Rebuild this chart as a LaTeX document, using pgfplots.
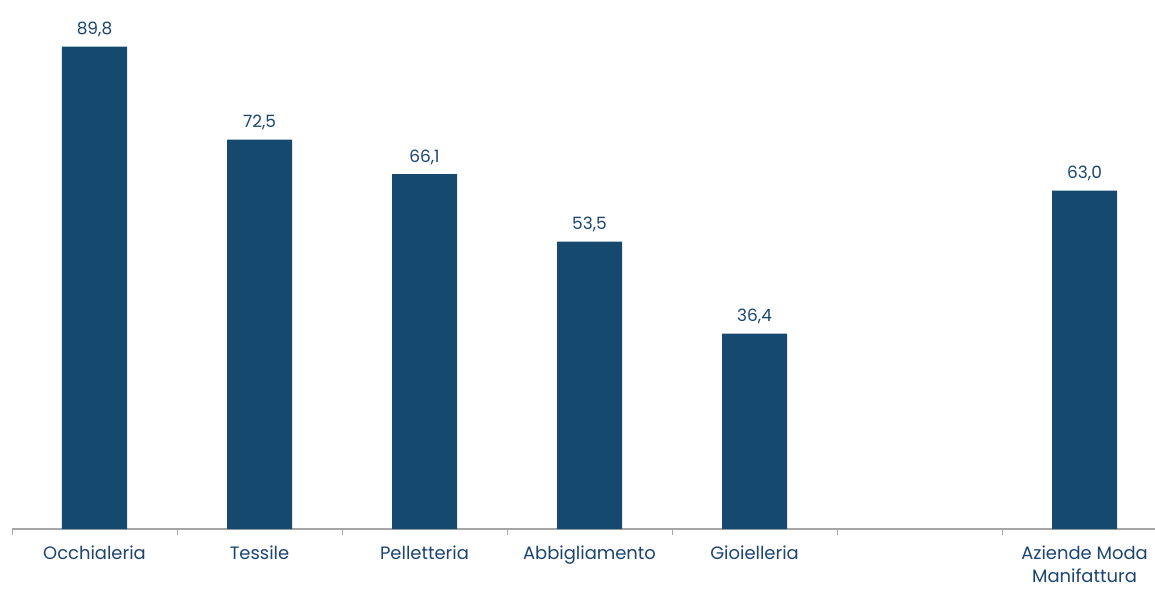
\documentclass[border=0pt]{standalone}
\usepackage{fontspec}
\setmainfont{Poppins}
\usepackage{pgfplots}
\pgfplotsset{compat=1.18}
\definecolor{barblue}{HTML}{154A6E}
\definecolor{txtblue}{HTML}{1B4470}
\definecolor{axgray}{HTML}{A6A6A6}

\begin{document}
\begin{tikzpicture}
\begin{axis}[
    width=1143bp, height=529bp,
    scale only axis,
    xmin=0, xmax=6.927,
    ymin=0, ymax=98.5,
    axis x line=bottom,
    axis y line=none,
    axis line style={axgray, line width=1.2bp, -},
    xtick={0.5,1.5,2.5,3.5,4.5,6.5},
    xticklabels={Occhialeria,Tessile,Pelletteria,Abbigliamento,Gioielleria,{Aziende Moda\\Manifattura}},
    major tick length=0pt,
    extra x ticks={0,1,2,3,4,5,6},
    extra x tick labels={},
    extra x tick style={major tick length=6bp, tick style={axgray, line width=1bp}, tick align=outside},
    x tick label style={font=\fontsize{18}{23}\selectfont, text=txtblue, align=center, anchor=north, yshift=-13bp},
    ybar, bar width=0.394,
    /pgf/number format/assume math mode=true,
    nodes near coords,
    nodes near coords style={font=\fontsize{17}{20}\selectfont, text=txtblue, yshift=6bp,
        /pgf/number format/.cd, fixed, fixed zerofill, precision=1, use comma},
    clip=false,
]
\addplot[fill=barblue, draw=none] coordinates {
    (0.5,89.8) (1.5,72.5) (2.5,66.1) (3.5,53.5) (4.5,36.4) (6.5,63.0)
};
\coordinate (bl) at (rel axis cs:0,0);
\coordinate (tr) at (rel axis cs:1,1);
\end{axis}
\pgfresetboundingbox
\path (bl) ++(-12bp,-59bp) rectangle (tr);
\end{tikzpicture}
\end{document}
